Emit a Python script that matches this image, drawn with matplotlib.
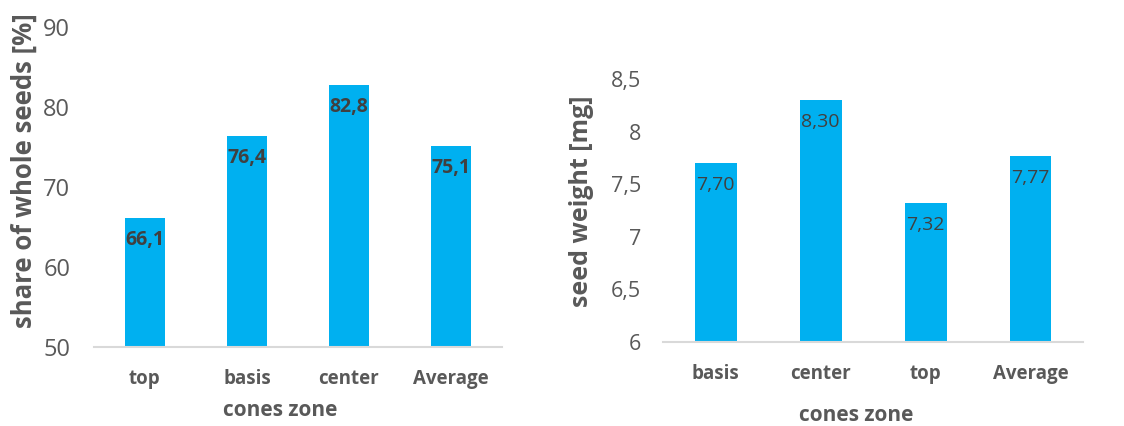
import matplotlib.pyplot as plt

# left panel data
zones_left = ['top', 'basis', 'center', 'Average']
share_whole = [66.1, 76.4, 82.8, 75.1]

# right panel data
zones_right = ['basis', 'center', 'top', 'Average']
seed_weight = [7.70, 8.30, 7.32, 7.77]

bar_color = '#00B0F0'
text_gray = '#595959'
label_dark = '#404040'

plt.rcParams['font.family'] = ['Open Sans', 'DejaVu Sans']

fig = plt.figure(figsize=(11.24, 4.26), dpi=100)

def style_axes(ax):
    for s in ['top', 'right', 'left']:
        ax.spines[s].set_visible(False)
    ax.spines['bottom'].set_color('#D9D9D9')
    ax.spines['bottom'].set_linewidth(1.5)
    ax.tick_params(length=0)

# left: share of whole seeds
ax1 = fig.add_axes([0.0836, 0.1854, 0.363, 0.7512])
x = range(len(zones_left))
ax1.bar(x, share_whole, width=0.4, color=bar_color)
ax1.set_ylim(50, 90)
ax1.set_xlim(-0.5, len(zones_left) - 0.5)
ax1.set_yticks([50, 60, 70, 80, 90])
ax1.set_yticklabels(['50', '60', '70', '80', '90'], fontsize=17, color=text_gray)
ax1.set_xticks(list(x))
ax1.set_xticklabels(zones_left, fontsize=13.5, fontweight='bold', color=text_gray)
ax1.tick_params(axis='y', pad=17)
ax1.tick_params(axis='x', pad=16)
style_axes(ax1)
ax1.set_ylabel('share of whole seeds [%]', fontsize=18.5, fontweight='bold', color=text_gray)
ax1.yaxis.label.set_va('center')
ax1.yaxis.set_label_coords(-0.172, 0.55)
ax1.set_xlabel('cones zone', fontsize=15, fontweight='bold', color=text_gray)
ax1.xaxis.label.set_va('center')
ax1.xaxis.set_label_coords(0.456, -0.197)
for i, v in enumerate(share_whole):
    ax1.annotate(f'{v:.1f}'.replace('.', ','), (i, v), xytext=(0, -16),
                 textcoords='offset points', ha='center', va='center',
                 fontsize=14, fontweight='bold', color=label_dark)

# right: seed weight
ax2 = fig.add_axes([0.590, 0.197, 0.3735, 0.6176])
x2 = range(len(zones_right))
ax2.bar(x2, seed_weight, width=0.4, color=bar_color)
ax2.set_ylim(6, 8.5)
ax2.set_xlim(-0.5, len(zones_right) - 0.5)
ax2.set_yticks([6, 6.5, 7, 7.5, 8, 8.5])
ax2.set_yticklabels(['6', '6,5', '7', '7,5', '8', '8,5'], fontsize=15.5, color=text_gray)
ax2.set_xticks(list(x2))
ax2.set_xticklabels(zones_right, fontsize=13.5, fontweight='bold', color=text_gray)
ax2.tick_params(axis='y', pad=16)
ax2.tick_params(axis='x', pad=15.5)
style_axes(ax2)
ax2.set_ylabel('seed weight [mg]', fontsize=18, fontweight='bold', color=text_gray)
ax2.yaxis.label.set_va('center')
ax2.yaxis.set_label_coords(-0.195, 0.536)
ax2.set_xlabel('cones zone', fontsize=15, fontweight='bold', color=text_gray)
ax2.xaxis.label.set_va('center')
ax2.xaxis.set_label_coords(0.46, -0.278)
for i, v in enumerate(seed_weight):
    ax2.annotate(f'{v:.2f}'.replace('.', ','), (i, v), xytext=(0, -16),
                 textcoords='offset points', ha='center', va='center',
                 fontsize=14, color=label_dark)

fig.savefig('out.png', dpi=100)
